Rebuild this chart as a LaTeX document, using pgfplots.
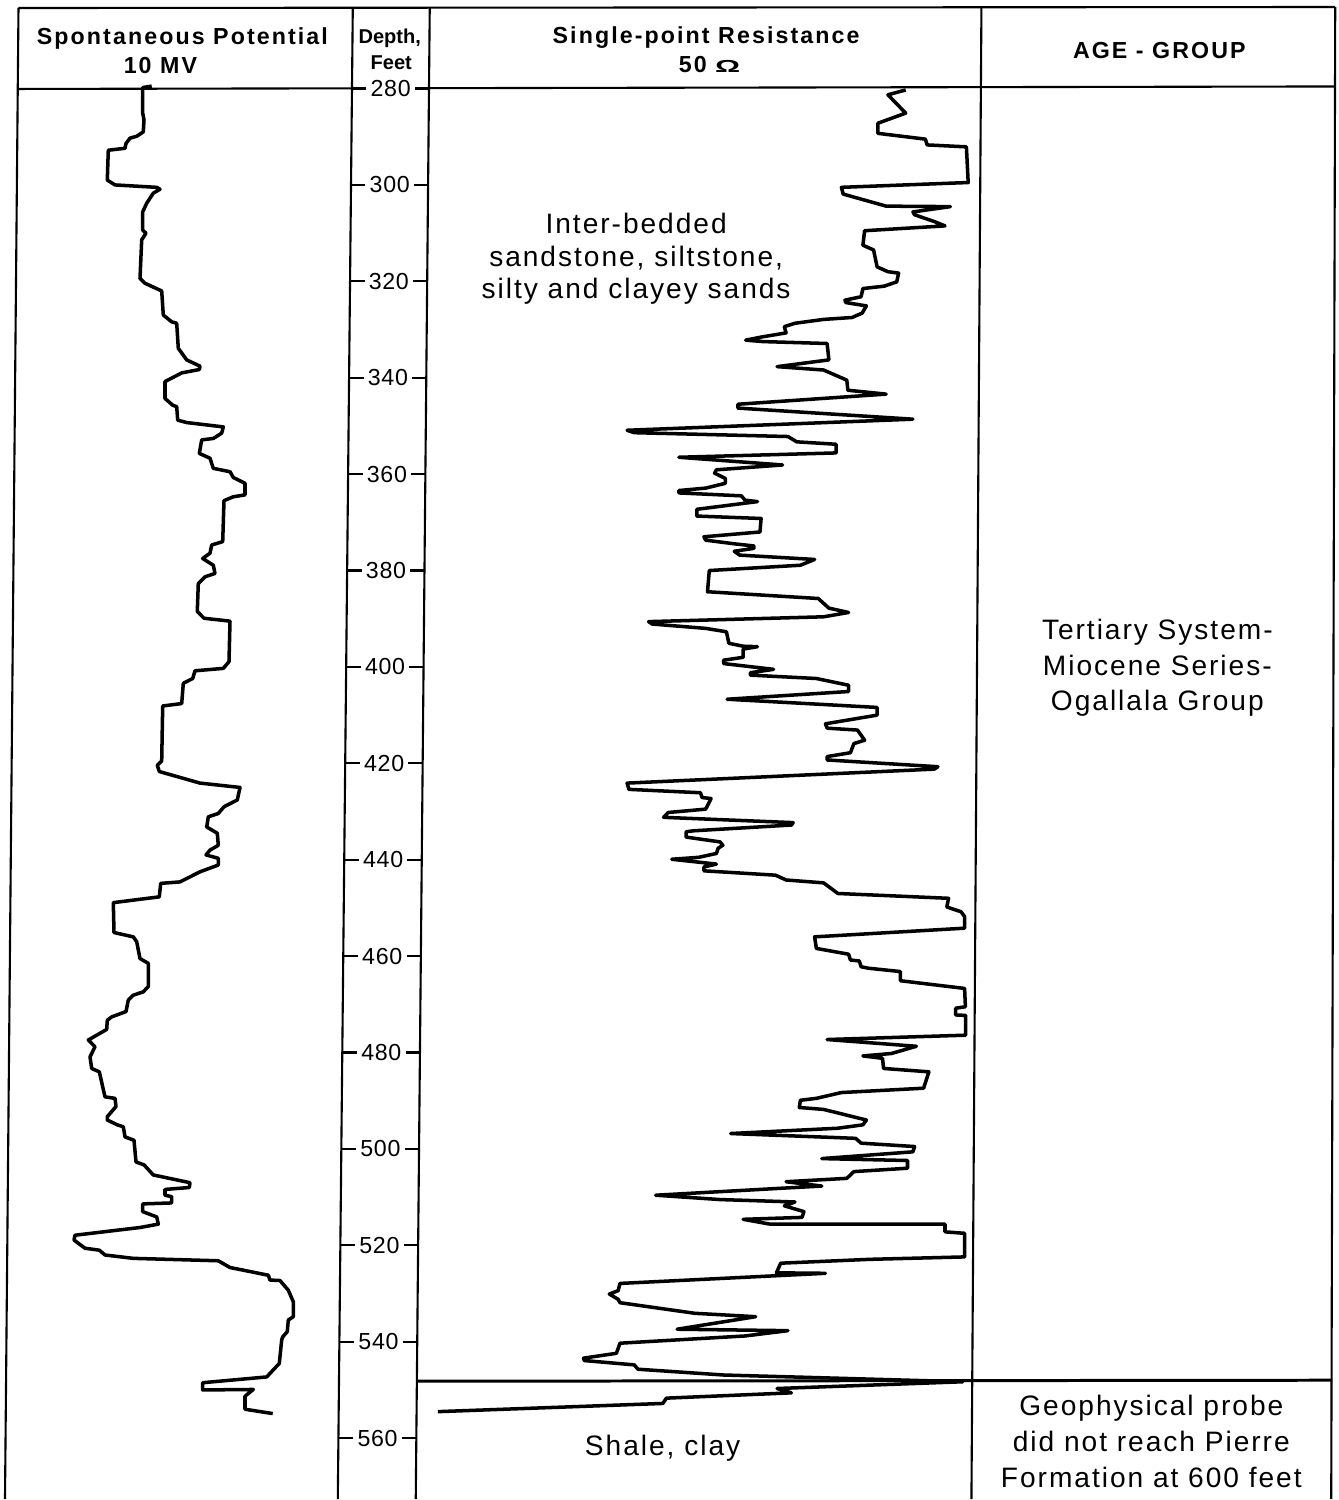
\documentclass[border=0pt]{standalone}
\usepackage{pgfplots}
\pgfplotsset{compat=1.18}
\usepackage{graphicx}
\usepackage{fontspec}
\setmainfont{Liberation Sans}
\newfontfamily\bodyfont[LetterSpace=7]{Liberation Sans}
\newfontfamily\headfont[LetterSpace=9]{Liberation Sans}
\newfontfamily\depthfont[LetterSpace=3]{Liberation Sans}
\begin{document}
\begin{tikzpicture}
\path[use as bounding box] (0,0) rectangle (13.38cm,-15cm);
% ---------- frame (pixel coordinates) ----------
\begin{scope}[x=0.01cm, y=-0.01cm, line width=0.6pt]
\draw (18.5,8) -- (1336,7);
\draw (18.5,8) -- (5,1500);
\draw (353,8) -- (338,1500);
\draw (430,8) -- (416,1500);
\draw (982,8) -- (972,1500);
\draw (1336,7) -- (1332,1500);
\draw (18,89) -- (1336,86.5);
\draw[line width=0.85pt] (417,1382) -- (1333,1381);
\end{scope}
% ---------- data ----------
\begin{axis}[at={(0,0)}, anchor=north west, scale only axis,
  width=13.38cm, height=15cm, xmin=0, xmax=1338, ymin=261.64, ymax=572.84,
  y dir=reverse, hide axis, clip=false]
% Spontaneous potential (x: relative deflection, y: depth in feet)
\addplot[black, line width=1pt, line join=round, mark=none] coordinates {
(151.7,279.5) (142.7,279.8) (142.7,285.1) (144,286.5) (143.3,289.0) (136.7,289.9) (130,290.3) (126,291.4) (125,292.4) (108.3,292.8) (107.3,299.0) (115,300.0) (156.7,300.5) (160,300.9) (153.3,301.7) (146.7,303.8) (142.7,305.6) (142.7,309.4) (146,310.0) (141.7,311.4) (140,319.4) (145,320.4) (161.7,322.0) (163.3,327.0) (171.7,328.4) (176.7,328.7) (178.3,333.9) (186.7,336.3) (200,337.6) (199.3,338.3) (181.7,339.0) (165,340.8) (165,344.3) (172.7,345.7) (176.7,346.0) (177.7,348.8) (186.7,349.3) (223.3,350.2) (221.7,351.5) (213.3,352.6) (201.7,352.9) (199.3,355.7) (210,356.7) (213.3,358.8) (230,359.5) (233.3,360.7) (245,361.9) (245,364.3) (233.3,364.7) (224,365.5) (222.7,374.0) (211.7,374.7) (210,376.4) (202.7,377.5) (213.3,378.9) (215,380.6) (205,381.3) (198.3,382.7) (197.3,388.5) (204,389.9) (230,390.5) (229,398.9) (223.3,400.3) (195,400.8) (192.7,402.4) (183.3,403.4) (181.7,407.6) (162.7,408.1) (161.7,419.5) (157.3,420.4) (159.3,421.7) (200,424.1) (240,425.0) (237.3,427.6) (224,429.0) (218.3,430.4) (208.3,431.1) (206.7,433.2) (217.3,434.5) (218.3,437.0) (210,438.0) (206,439.0) (218.3,439.7) (218.3,441.1) (200,442.5) (180,444.6) (160.7,444.9) (159.3,447.7) (113.3,448.9) (114,455.1) (133.3,456.0) (136.7,457.0) (140,460.5) (148.3,461.5) (148.3,466.3) (143.3,467.4) (133.3,468.1) (128.3,469.1) (126,471.5) (111.7,472.6) (107.3,473.3) (106.7,475.2) (88.3,477.4) (95,478.8) (90,480.9) (91.7,483.3) (99.3,484.0) (105,489.2) (115,489.5) (116,491.2) (107.3,493.3) (107.3,494.0) (117.3,495.0) (123.3,495.4) (125,497.5) (134,498.2) (136,502.7) (144,503.3) (153.3,505.4) (190,507.0) (189.3,508.0) (165,508.4) (165,509.6) (171.7,509.9) (171.7,511.2) (142.7,511.4) (142.7,513.0) (156.7,514.1) (158.3,515.6) (140,516.3) (75,517.9) (74,518.9) (85,520.6) (99.3,521.0) (105,522.0) (133.3,522.7) (218.3,523.2) (230,524.6) (268.3,526.2) (270,527.2) (280,527.3) (288.3,529.3) (293.3,531.7) (293.3,534.8) (288.3,535.5) (287.3,537.9) (282.7,539.0) (281.7,539.6) (279.3,544.5) (266.7,547.3) (202.7,548.5) (202.7,550.0) (253.3,549.9) (245,551.3) (245,554.0) (272.7,554.9)
};
% Single-point resistance
\addplot[black, line width=1pt, line join=round, mark=none] coordinates {
(905.7,280.3) (887.9,281.3) (905.7,285.1) (877.9,287.2) (877.9,289.3) (925.4,290.5) (927.1,291.7) (966.4,292.1) (968.2,299.5) (841.4,300.5) (843.2,301.9) (886.1,304.4) (950.4,304.5) (912.9,305.6) (914.6,306.2) (934.3,307.6) (945,308.5) (864.6,309.5) (862.9,312.5) (873.6,313.5) (877.1,317.0) (887.9,318.0) (898.6,318.3) (896.8,320.1) (884.3,321.0) (862.9,321.5) (861.1,323.2) (845,323.9) (845.7,324.4) (866.4,325.1) (862.1,326.6) (852.1,327.5) (823.6,327.9) (795,328.7) (784.3,329.4) (786.1,330.7) (762.9,331.5) (745.7,332.2) (762.9,332.5) (827.1,332.9) (828.9,336.3) (777.1,337.7) (823.6,338.4) (846.8,340.5) (847.9,342.6) (886.1,343.4) (737.9,345.5) (737.9,346.3) (912.9,348.6) (627.1,350.9) (634.3,351.4) (787.9,352.2) (796.8,353.3) (836.1,353.8) (836.1,355.6) (678.9,356.5) (782.5,358.1) (716.4,359.1) (714.6,359.8) (725.4,360.9) (725.4,361.9) (705.7,362.9) (678.9,363.4) (678.9,363.9) (741.4,364.5) (745,365.4) (757.5,365.7) (696.8,367.3) (696.8,368.7) (761.1,369.2) (760,372.0) (703.9,373.0) (705.7,373.7) (736.1,374.5) (753.9,374.9) (753.9,375.4) (734.3,376.0) (739.6,376.8) (814.6,377.7) (800.4,378.9) (709.3,380.0) (707.5,384.4) (818.2,385.8) (828.9,387.8) (848.6,388.7) (823.6,389.6) (648.6,390.6) (652.1,391.1) (705.7,392.0) (726.4,392.7) (728.9,395.1) (743.2,395.7) (757.5,395.8) (743.2,396.3) (743.2,398.0) (723.6,398.6) (723.6,399.3) (773.6,400.5) (750.4,401.2) (750.4,401.7) (816.4,402.4) (848.6,403.8) (848.6,405.1) (727.1,406.7) (877.1,408.4) (877.1,410.0) (825.4,411.8) (827.1,412.7) (857.5,413.1) (864.6,415.2) (853.9,415.9) (850.4,417.8) (827.1,418.6) (827.1,419.3) (937.9,420.7) (934.3,421.2) (627.1,424.1) (628.9,425.4) (700.4,426.1) (702.1,427.1) (711.1,427.3) (705.7,429.5) (668.2,430.2) (663.6,431.2) (793.2,432.3) (791.4,432.8) (693.2,434.0) (686.1,434.2) (686.1,435.3) (720,436.3) (722.9,437.0) (718.2,437.6) (716.4,438.7) (698.6,439.5) (671.8,439.9) (716.4,440.9) (703.9,441.5) (703.9,442.3) (775.4,443.2) (786.1,444.2) (823.6,444.8) (837.9,447.0) (948.6,448.0) (946.8,449.8) (961.1,450.8) (964.6,451.8) (964.6,454.2) (814.6,456.0) (816.4,458.4) (848.6,459.6) (850.4,460.8) (859.3,461.0) (861.1,462.2) (868.2,462.5) (900.4,463.2) (900.4,465.1) (964.6,466.7) (965.4,470.5) (955.7,470.8) (955.7,472.2) (965.7,472.3) (965.7,476.4) (827.1,477.3) (916.4,478.7) (891.4,480.2) (862.9,480.7) (882.5,481.2) (883.6,483.3) (928.9,484.0) (923.6,487.4) (841.4,488.3) (816.4,489.5) (800.4,489.9) (799.3,491.4) (823.6,491.8) (866.4,494.0) (862.9,495.0) (837.9,495.7) (730.7,496.8) (855.7,497.8) (861.1,498.8) (914.6,499.5) (912.9,500.6) (821.8,502.0) (907.5,502.4) (907.5,504.0) (853.9,504.7) (846.8,506.1) (786.1,506.8) (821.8,507.7) (786.1,508.1) (655.7,509.6) (720,510.5) (795,511.0) (784.3,511.8) (803.9,513.0) (802.1,514.2) (743.2,514.6) (770,515.6) (945,515.6) (945,517.2) (964.6,517.5) (964.6,522.4) (870,522.9) (780.7,523.7) (776.4,525.7) (825.4,525.8) (620,527.9) (618.2,529.4) (609.3,530.1) (618.2,531.2) (620,531.9) (695,534.1) (755.7,534.8) (677.1,537.4) (787.9,537.7) (745,538.8) (620,540.3) (616.4,542.4) (583.6,543.4) (584.3,543.9) (634.3,544.8) (637.9,545.7) (723.6,546.9) (962.9,548.3) (777.1,549.7) (791.4,550.6) (666.4,551.7) (662.9,552.8) (437.9,554.5)
};
% depth scale
\pgfplotsinvokeforeach{280,300,320,340,360,380,400,420,440,460,480,500,520,540,560}{
  \draw[line width=0.6pt] (axis cs:{352.2-0.0485*(#1-280)},#1) -- (axis cs:{429.2-0.0452*(#1-280)},#1);
  \node[fill=white, inner xsep=1.2pt, inner ysep=0.3pt, font=\depthfont\fontsize{6.6}{7.5}\selectfont]
    at (axis cs:{390.7-0.0469*(#1-280)},#1) {#1};
}
\end{axis}
% ---------- texts (pixel coordinates) ----------
\begin{scope}[x=0.01cm, y=-0.01cm]
\tikzset{hd/.style={anchor=base, inner sep=0pt, font=\headfont\bfseries\fontsize{6.6}{7.8}\selectfont},
         bd/.style={anchor=base, inner sep=0pt, font=\bodyfont\fontsize{8}{9.5}\selectfont}}
\node[hd] at (182.5,45) {Spontaneous Potential};
\node[hd] at (160.5,73.3) {10 MV};
\node[anchor=base, inner sep=0pt, font=\bfseries\fontsize{5.7}{6.5}\selectfont] at (390,43.3) {Depth,};
\node[anchor=base, inner sep=0pt, font=\bfseries\fontsize{5.7}{6.5}\selectfont] at (391.5,70) {Feet};
\node[hd] at (706.5,44) {Single-point Resistance};
\node[hd] at (710,73) {50 \scalebox{1.35}[0.75]{Ω}};
\node[hd] at (1160,59) {AGE - GROUP};
\node[bd] at (636.5,233.3) {Inter-bedded};
\node[bd] at (636.5,266.7) {sandstone, siltstone,};
\node[bd] at (636.5,298.3) {silty and clayey sands};
\node[bd] at (1158,640) {Tertiary System-};
\node[bd] at (1158,676) {Miocene Series-};
\node[bd] at (1158,711) {Ogallala Group};
\node[bd] at (663,1456.7) {Shale, clay};
\node[bd] at (1152,1416) {Geophysical probe};
\node[bd] at (1152,1452) {did not reach Pierre};
\node[bd] at (1152,1488) {Formation at 600 feet};
\end{scope}
\end{tikzpicture}
\end{document}
